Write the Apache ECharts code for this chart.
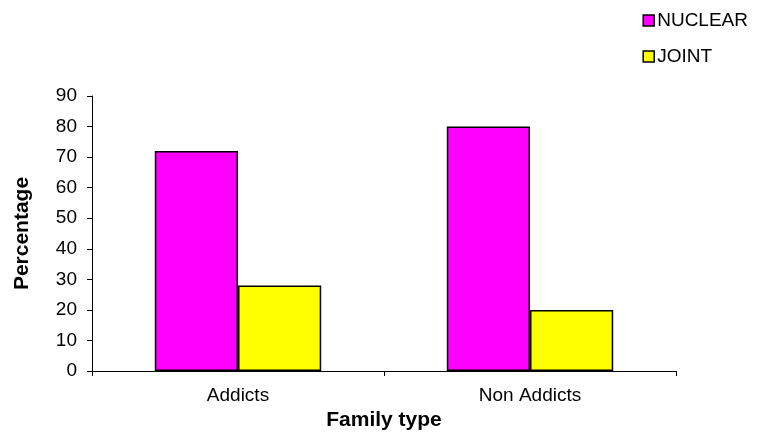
<!DOCTYPE html>
<html>
<head>
<meta charset="utf-8">
<script src="https://cdn.jsdelivr.net/npm/echarts@6/dist/echarts.min.js"></script>
<style>
  html, body { margin: 0; padding: 0; background: #fff; }
  #chart { width: 763px; height: 432px; }
</style>
</head>
<body>
<div id="chart"></div>
<script>
// Family type distribution (%)
const categories = ['Addicts', 'Non Addicts'];
const nuclear = [72, 80];
const joint = [28, 20];
const yTicks = [0, 10, 20, 30, 40, 50, 60, 70, 80, 90];

const FONT = 'Liberation Sans, Arial, sans-serif';
const chart = echarts.init(document.getElementById('chart'), null, { renderer: 'canvas' });

const barStyle = (color) => ({ color: color, borderColor: '#000', borderWidth: 1.5 });

chart.setOption({
  animation: false,
  backgroundColor: '#fff',
  grid: {
    left: 92, right: 87, top: 96, bottom: 61,
    containLabel: false,
    outerBoundsMode: 'none'
  },
  legend: {
    orient: 'vertical',
    right: 10,
    top: 6,
    itemWidth: 11,
    itemHeight: 11,
    itemGap: 17,
    icon: 'rect',
    textStyle: { fontFamily: FONT, fontSize: 19, color: '#000', padding: [0, 0, 0, -2] },
    data: [
      { name: 'NUCLEAR', itemStyle: { color: '#ff00ff', borderColor: '#000', borderWidth: 1.5 } },
      { name: 'JOINT', itemStyle: { color: '#ffff00', borderColor: '#000', borderWidth: 1.5 } }
    ]
  },
  xAxis: {
    type: 'category',
    data: categories,
    name: 'Family type',
    nameLocation: 'middle',
    nameGap: 39,
    nameTextStyle: { fontFamily: FONT, fontSize: 21, fontWeight: 'bold', color: '#000' },
    axisLine: { lineStyle: { color: '#000', width: 1 } },
    axisTick: { show: true, alignWithLabel: false, length: 5, lineStyle: { color: '#000' } },
    axisLabel: { fontFamily: FONT, fontSize: 19, color: '#000', margin: 15 },
    splitLine: { show: false }
  },
  yAxis: {
    type: 'value',
    min: yTicks[0],
    max: yTicks[yTicks.length - 1],
    interval: 10,
    name: 'Percentage',
    nameLocation: 'middle',
    nameGap: 59,
    nameRotate: 90,
    nameTextStyle: { fontFamily: FONT, fontSize: 21, fontWeight: 'bold', color: '#000' },
    axisLine: { show: true, lineStyle: { color: '#000', width: 1 } },
    axisTick: { show: true, length: 5, lineStyle: { color: '#000' } },
    axisLabel: { fontFamily: FONT, fontSize: 19, color: '#000', margin: 15 },
    splitLine: { show: false }
  },
  series: [
    {
      name: 'NUCLEAR',
      type: 'bar',
      data: nuclear,
      barGap: '0%',
      barCategoryGap: '43%',
      itemStyle: barStyle('#ff00ff')
    },
    {
      name: 'JOINT',
      type: 'bar',
      data: joint,
      barGap: '0%',
      barCategoryGap: '43%',
      itemStyle: barStyle('#ffff00')
    }
  ]
});
</script>
</body>
</html>
